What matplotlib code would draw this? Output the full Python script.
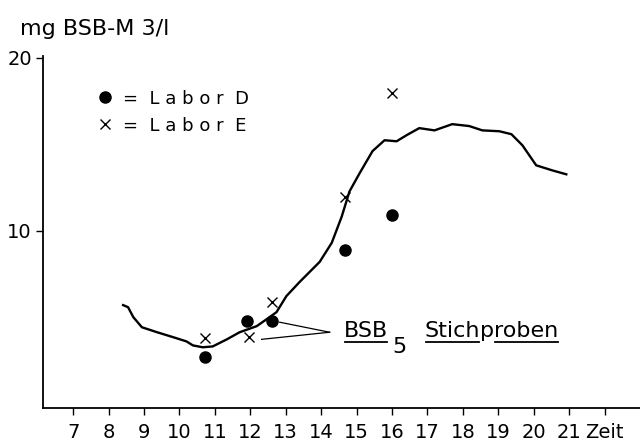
import matplotlib
matplotlib.use("Agg")
import matplotlib.pyplot as plt

# === Data ===
# continuous BSB curve
curve_t = [8.41, 8.55, 8.70, 8.94, 9.37, 9.83, 10.2, 10.38, 10.66, 10.94, 11.34,
           11.70, 12.18, 12.46, 12.74, 13.02, 13.39, 13.96, 14.30, 14.58, 14.80,
           15.08, 15.45, 15.79, 16.13, 16.41, 16.77, 17.2, 17.7, 18.18, 18.55,
           19.03, 19.37, 19.68, 20.07, 20.52, 20.92]
curve_v = [5.70, 5.58, 5.00, 4.42, 4.13, 3.84, 3.60, 3.37, 3.26, 3.31, 3.72,
           4.13, 4.48, 4.88, 5.29, 6.22, 7.03, 8.20, 9.30, 10.81, 12.27,
           13.30, 14.60, 15.23, 15.17, 15.52, 15.93, 15.80, 16.16, 16.05, 15.80,
           15.75, 15.58, 14.94, 13.78, 13.49, 13.26]

# Stichproben
labD_t = [10.72, 11.90, 12.60, 14.66, 15.99]
labD_v = [2.67, 4.77, 4.77, 8.90, 10.93]
labE_t = [10.72, 11.96, 12.60, 14.66, 16.00]
labE_v = [3.78, 3.84, 5.87, 11.92, 17.97]

xticks = list(range(7, 23))
xlabels = [str(h) for h in range(7, 22)] + ["Zeit"]
yticks = [10, 20]

plt.rcParams['font.family'] = ['DejaVu Sans']

fig = plt.figure(figsize=(6.4, 4.43), dpi=100)
ax = fig.add_axes([43 / 640, 1 - 408 / 443, 1 - 43 / 640, (408 - 56) / 443])

ax.plot(curve_t, curve_v, color='black', lw=1.7)
ax.plot(labD_t, labD_v, 'o', color='black', ms=8, ls='none', label='=  L a b o r  D')
ax.plot(labE_t, labE_v, 'x', color='black', ms=7, mew=1.0, ls='none', label='=  L a b o r  E')

ax.set_xlim(6.15, 23.0)
ax.set_ylim(-0.25, 20.1)
ax.set_xticks(xticks)
ax.set_xticklabels(xlabels)
ax.set_yticks(yticks)
ax.tick_params(axis='both', direction='out', length=5, width=1, labelsize=14, pad=3)
ax.tick_params(axis='x', pad=6)
for s in ['top', 'right']:
    ax.spines[s].set_visible(False)
for s in ['left', 'bottom']:
    ax.spines[s].set_linewidth(1.3)

ax.legend(loc='upper left', bbox_to_anchor=(0.08, 0.925), frameon=False,
          handlelength=0.8, handletextpad=0.6, labelspacing=0.5, fontsize=13,
          borderaxespad=0)

fig.text(20 / 640, 1 - 29 / 443, 'mg BSB-M 3/l', fontsize=16, va='center', ha='left')

# annotation for the sample points
ax.plot([12.83, 14.24], [4.71, 4.13], color='black', lw=0.9)
ax.plot([12.32, 14.24], [3.72, 4.13], color='black', lw=0.9)

ty = 4.2
t1 = ax.text(14.65, ty, 'BSB', fontsize=16, va='center', ha='left')
fig.canvas.draw()
r = fig.canvas.get_renderer()
inv = ax.transData.inverted()


def underline(t):
    bb = t.get_window_extent(r)
    (x0, y0), (x1, _) = inv.transform([(bb.x0 + 1, bb.y0 - 1), (bb.x1 - 1, bb.y0 - 1)])
    ax.plot([x0, x1], [y0, y0], color='black', lw=1.3)
    return bb


bb = underline(t1)
xs, _ = inv.transform((bb.x1 + 4, 0))
t2 = ax.text(xs, ty - 0.95, '5', fontsize=16, va='center', ha='left')
bb2 = t2.get_window_extent(r)
xs, _ = inv.transform((bb2.x1 + 18, 0))
t3 = ax.text(xs, ty, 'Stich', fontsize=16, va='center', ha='left')
bb3 = underline(t3)
xs, _ = inv.transform((bb3.x1, 0))
t4 = ax.text(xs, ty, 'p', fontsize=16, va='center', ha='left')
bb4 = t4.get_window_extent(r)
xs, _ = inv.transform((bb4.x1, 0))
t5 = ax.text(xs, ty, 'roben', fontsize=16, va='center', ha='left')
fig.canvas.draw()
underline(t5)

fig.savefig('out.png', dpi=100)
